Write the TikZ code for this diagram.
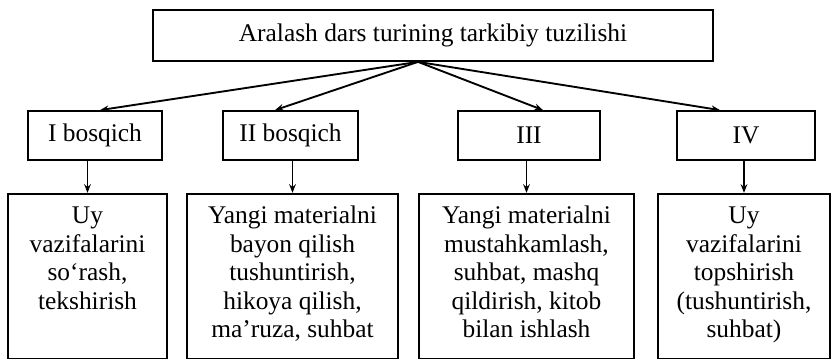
\documentclass[tikz,border=0pt]{standalone}
\usepackage{fontspec}
\setmainfont{Liberation Serif}
\usepackage{tikz}
\usetikzlibrary{positioning,arrows.meta}

\newcommand{\topstrut}{\rule{0pt}{21.5pt}}

\begin{document}
\begin{tikzpicture}[
    font=\fontsize{21.7}{24.3}\selectfont,
    box/.style={rectangle, draw=black, line width=1.5pt, align=center, inner sep=0.14cm},
    topbox/.style={box, minimum width=16.8cm, minimum height=1.53cm},
    stagebox/.style={box, minimum height=1.47cm},
    contentbox/.style={box},
    arrow/.style={-{Stealth[length=0.26cm,width=0.2cm]}, line width=1.6pt}
]
\useasboundingbox (0,0) rectangle (24.96,-10.8);

\node[topbox] (main) at (12.99,-1.065) {Aralash dars turining tarkibiy tuzilishi};

\node[stagebox, minimum width=4.02cm] (s1) at (2.85,-4.065) {I bosqich};
\node[stagebox, minimum width=4.05cm] (s2) at (8.715,-4.065) {II bosqich};
\node[stagebox, minimum width=4.26cm] (s3) at (15.87,-4.065) {III};
\node[stagebox, minimum width=4.14cm] (s4) at (22.38,-4.065) {IV};

\node[contentbox, below=0.96cm of s1, xshift=-0.225cm] (d1)
    {\parbox[t][4.66cm][t]{4.49cm}{\centering\topstrut Uy\\ vazifalarini\\ so‘rash,\\ tekshirish}};
\node[contentbox, below=0.96cm of s2, xshift=0.06cm] (d2)
    {\parbox[t][4.66cm][t]{6.05cm}{\centering\topstrut Yangi materialni\\ bayon qilish\\ tushuntirish,\\ hikoya qilish,\\ ma’ruza, suhbat}};
\node[contentbox, below=0.96cm of s3, xshift=-0.075cm] (d3)
    {\parbox[t][4.66cm][t]{6.17cm}{\centering\topstrut Yangi materialni\\ mustahkamlash,\\ suhbat, mashq\\ qildirish, kitob\\ bilan ishlash}};
\node[contentbox, below=0.96cm of s4, xshift=-0.06cm] (d4)
    {\parbox[t][4.66cm][t]{4.88cm}{\centering\topstrut Uy\\ vazifalarini\\ topshirish\\ (tushuntirish,\\ suhbat)}};

\coordinate (apex) at ([xshift=-0.45cm]main.south);
\draw[arrow] (apex) -- ([xshift=0.15cm]s1.north);
\draw[arrow] (apex) -- ([xshift=-0.465cm]s2.north);
\draw[arrow] (apex) -- ([xshift=0.42cm]s3.north);
\draw[arrow] (apex) -- ([xshift=-0.78cm]s4.north);

\draw[arrow] (s1.south -| d1.north) -- (d1.north);
\draw[arrow] (s2.south -| d2.north) -- (d2.north);
\draw[arrow] (s3.south -| d3.north) -- (d3.north);
\draw[arrow] (s4.south -| d4.north) -- (d4.north);
\end{tikzpicture}
\end{document}
